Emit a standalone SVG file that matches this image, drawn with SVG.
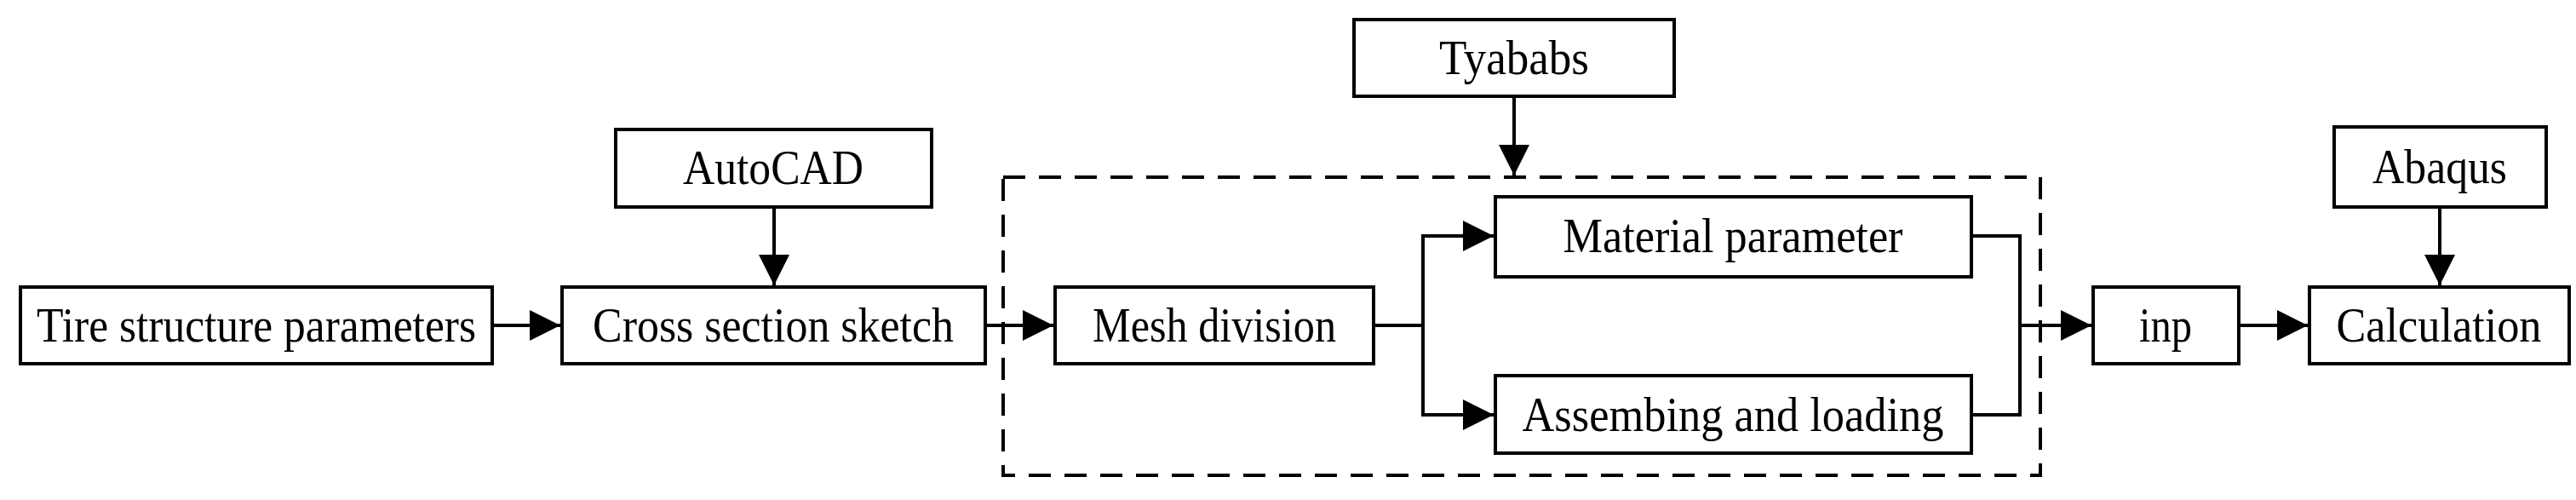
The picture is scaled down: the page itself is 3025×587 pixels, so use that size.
<svg xmlns="http://www.w3.org/2000/svg" width="3025" height="587" viewBox="0 0 3025 587">
<style>
.b{fill:#fff;stroke:#000;stroke-width:4}
.t{font-family:"Liberation Serif",serif;font-size:56px;text-anchor:middle;dominant-baseline:central}
.c{fill:none;stroke:#000;stroke-width:4}
</style>
<defs><marker id="a" markerWidth="9" markerHeight="9" refX="9" refY="4.5" orient="auto" markerUnits="strokeWidth"><path d="M0,0L9,4.5L0,9z"/></marker></defs>
<rect x="0" y="0" width="3025" height="587" fill="#fff"/>
<g id="dashed"><rect x="1178" y="208" width="1218" height="350" fill="none" stroke="#000" stroke-width="4" stroke-dasharray="26,16"/></g>
<g id="n1"><rect class="b" x="24" y="337" width="554" height="90"/><text class="t" x="301" y="382" textLength="516" lengthAdjust="spacingAndGlyphs">Tire structure parameters</text></g>
<g id="n2"><rect class="b" x="660" y="337" width="497" height="90"/><text class="t" x="908" y="382" textLength="424" lengthAdjust="spacingAndGlyphs">Cross section sketch</text></g>
<g id="n3"><rect class="b" x="723" y="152" width="371" height="91"/><text class="t" x="908" y="197" textLength="212" lengthAdjust="spacingAndGlyphs">AutoCAD</text></g>
<g id="n4"><rect class="b" x="1239" y="337" width="374" height="90"/><text class="t" x="1426" y="382" textLength="286" lengthAdjust="spacingAndGlyphs">Mesh division</text></g>
<g id="n5"><rect class="b" x="1590" y="23" width="376" height="90"/><text class="t" x="1778" y="68" textLength="176" lengthAdjust="spacingAndGlyphs">Tyababs</text></g>
<g id="n6"><rect class="b" x="1756" y="231" width="559" height="94"/><text class="t" x="2035" y="277" textLength="399" lengthAdjust="spacingAndGlyphs">Material parameter</text></g>
<g id="n7"><rect class="b" x="1756" y="441" width="559" height="91"/><text class="t" x="2035" y="487" textLength="495" lengthAdjust="spacingAndGlyphs">Assembing and loading</text></g>
<g id="n8"><rect class="b" x="2458" y="337" width="171" height="90"/><text class="t" x="2543" y="382" textLength="62" lengthAdjust="spacingAndGlyphs">inp</text></g>
<g id="n9"><rect class="b" x="2712" y="337" width="305" height="90"/><text class="t" x="2864" y="382" textLength="241" lengthAdjust="spacingAndGlyphs">Calculation</text></g>
<g id="n10"><rect class="b" x="2741" y="149" width="249" height="94"/><text class="t" x="2865" y="196" textLength="158" lengthAdjust="spacingAndGlyphs">Abaqus</text></g>
<g id="connectors">
<path class="c" d="M578,382H658" marker-end="url(#a)"/>
<path class="c" d="M909,243V335" marker-end="url(#a)"/>
<path class="c" d="M1157,382H1237" marker-end="url(#a)"/>
<path class="c" d="M1778,113V206" marker-end="url(#a)"/>
<path class="c" d="M1613,382H1671V277H1754" marker-end="url(#a)"/>
<path class="c" d="M1671,382V487H1754" marker-end="url(#a)"/>
<path class="c" d="M2315,277H2372V487H2315"/>
<path class="c" d="M2372,382H2456" marker-end="url(#a)"/>
<path class="c" d="M2629,382H2710" marker-end="url(#a)"/>
<path class="c" d="M2865,243V335" marker-end="url(#a)"/>
</g>
</svg>
